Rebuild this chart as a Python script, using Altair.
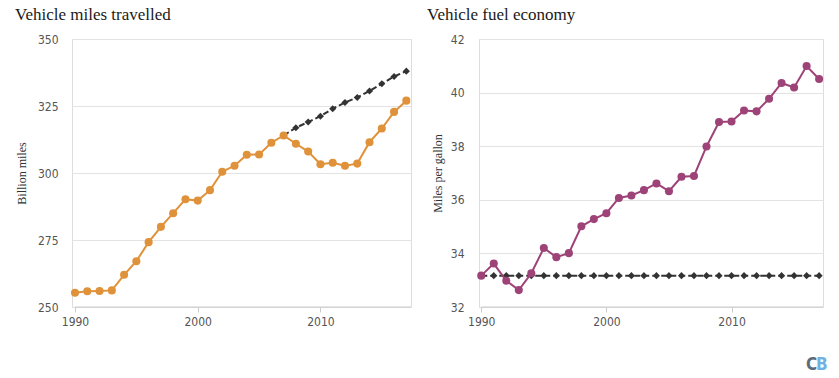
import altair as alt
import pandas as pd

years = list(range(1990, 2018))
miles = [255.3, 255.9, 256.0, 256.2, 262.0, 267.1, 274.2, 279.9, 285.0, 290.2,
         289.7, 293.6, 300.5, 302.7, 306.8, 306.9, 311.3, 314.0, 310.9, 308.0,
         303.3, 303.8, 302.7, 303.5, 311.5, 316.6, 322.8, 327.0]
trend_years = list(range(2007, 2018))
miles_trend = [314.0, 316.9, 319.0, 321.2, 324.0, 326.3, 328.2, 330.6, 333.3, 336.0, 338.0]
mpg = [33.17, 33.62, 32.98, 32.63, 33.26, 34.20, 33.86, 34.01, 35.01, 35.28,
       35.50, 36.07, 36.16, 36.36, 36.61, 36.32, 36.86, 36.89, 37.99, 38.90,
       38.92, 39.33, 39.30, 39.77, 40.36, 40.19, 40.99, 40.51]
mpg_base = [33.17, 33.17, 33.17, 33.17, 33.17, 33.17, 33.17, 33.17, 33.17, 33.17,
            33.17, 33.17, 33.17, 33.17, 33.17, 33.17, 33.17, 33.17, 33.17, 33.17,
            33.17, 33.17, 33.17, 33.17, 33.17, 33.17, 33.17, 33.17]
x_ticks = [1990, 2000, 2010]
miles_ticks = [250, 275, 300, 325, 350]
mpg_ticks = [32, 34, 36, 38, 40, 42]
titles = ["Vehicle miles travelled", "Vehicle fuel economy"]
y_titles = ["Billion miles", "Miles per gallon"]

LABEL_FONT = "DejaVu Sans Condensed, Liberation Sans Narrow, Roboto, sans-serif"
SERIF = "Liberation Serif, Georgia, serif"
ORANGE = "#E0923A"
PURPLE = "#9E4378"
DARK = "#333333"
HEIGHT = 268


def panel(title, main_x, main_y, base_x, base_y, color, ydom, yticks, ytitle,
          xdom, width, title_x, label_pad, title_pad, ybottom):
    xs = alt.Scale(domain=xdom, nice=False, zero=False)
    ys = alt.Scale(domain=ydom, nice=False, zero=False)
    xaxis = alt.Axis(values=x_ticks, format="d", grid=False, domain=False,
                     tickColor="#cccccc", tickSize=5, labelPadding=4,
                     labelFont=LABEL_FONT, labelFontSize=12, labelFontWeight=300,
                     labelColor="#555555", title=None)
    yaxis = alt.Axis(values=yticks, grid=True, domain=False, ticks=False,
                     gridColor="#e3e3e3",
                     gridOpacity={"condition": {"test": f"datum.value === {ybottom}", "value": 0}, "value": 1},
                     labelFont=LABEL_FONT, labelFontSize=12, labelFontWeight=300,
                     labelColor="#555555",
                     labelPadding=label_pad, title=ytitle, titleFont=SERIF,
                     titleFontSize=12, titleFontWeight="normal", titleColor="#333333",
                     titlePadding=title_pad)
    main = pd.DataFrame({"year": main_x, "value": main_y})
    base = pd.DataFrame({"year": base_x, "value": base_y})
    enc_x = alt.X("year:Q", scale=xs, axis=xaxis)
    enc_y = alt.Y("value:Q", scale=ys, axis=yaxis)
    base_line = alt.Chart(base).mark_line(color=DARK, strokeWidth=2, strokeDash=[6, 3]).encode(x=enc_x, y=enc_y)
    base_pts = alt.Chart(base).mark_point(shape="diamond", filled=True, color=DARK, size=50, opacity=1).encode(x=enc_x, y=enc_y)
    main_line = alt.Chart(main).mark_line(color=color, strokeWidth=2).encode(x=enc_x, y=enc_y)
    main_pts = alt.Chart(main).mark_circle(color=color, size=65, opacity=1).encode(x=enc_x, y=enc_y)
    axis_line = alt.Chart(pd.DataFrame({"a": [x_ticks[0]], "b": [xdom[1]]})).mark_rule(
        color="#cccccc", strokeWidth=1).encode(x=alt.X("a:Q", scale=xs, axis=xaxis), x2="b:Q",
                                              y=alt.value(HEIGHT))
    title_txt = alt.Chart(pd.DataFrame({"t": [title]})).mark_text(
        font=SERIF, fontSize=17, color="#1a1a1a", align="left", baseline="alphabetic"
    ).encode(text="t:N", x=alt.value(title_x), y=alt.value(-19))
    layers = [axis_line, base_line, base_pts, main_line, main_pts, title_txt]
    return alt.layer(*layers).properties(width=width, height=HEIGHT)


left = panel(titles[0], years, miles, trend_years, miles_trend, ORANGE,
             [250, 350], miles_ticks, y_titles[0], [1989.755, 2017.38], 339, -57, 14, 9, 250)

right = panel(titles[1], years, mpg, years, mpg_base, PURPLE,
              [32, 42], mpg_ticks, y_titles[1], [1989.82, 2017.31], 344, -52, 15, 6, 32)

logo_font = "DejaVu Sans Condensed, Liberation Sans Narrow, Roboto, sans-serif"
logo_c = alt.Chart(pd.DataFrame({"t": ["C"]})).mark_text(
    font=logo_font, fontSize=17, fontWeight="bold",
    color="#5B6B7B", align="left", baseline="alphabetic").encode(
    text="t:N", x=alt.value(327), y=alt.value(331))
logo_b = alt.Chart(pd.DataFrame({"t": ["B"]})).mark_text(
    font=logo_font, fontSize=17, fontWeight="bold",
    color="#72B2E2", align="left", baseline="alphabetic").encode(
    text="t:N", x=alt.value(337), y=alt.value(331))
right = alt.layer(right, logo_c, logo_b)

chart = alt.hconcat(left, right, spacing=68, bounds="flush").properties(
    padding={"left": 6, "top": -3, "right": 0, "bottom": 0}
).configure_view(stroke=None).configure(background="white")

chart.save("out.html", embed_options={"renderer": "svg", "actions": False})
